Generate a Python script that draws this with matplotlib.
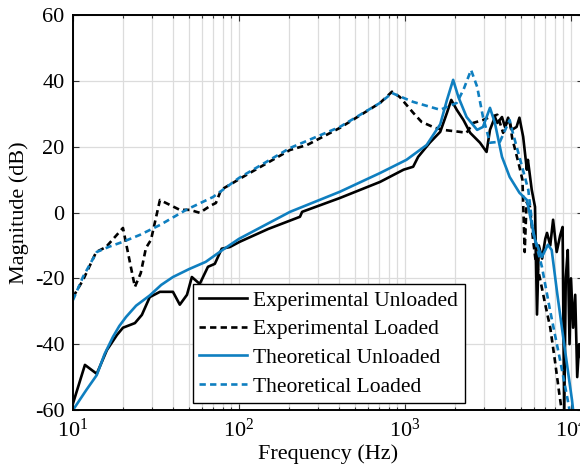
import matplotlib
matplotlib.use("Agg")
import matplotlib.pyplot as plt
from matplotlib.ticker import FixedLocator, FixedFormatter, LogLocator, NullFormatter

plt.rcParams['font.family'] = ['Liberation Serif', 'DejaVu Serif']
plt.rcParams['mathtext.fontset'] = 'custom'
plt.rcParams['mathtext.rm'] = 'Liberation Serif'
plt.rcParams['mathtext.it'] = 'Liberation Serif:italic'

# ---- data ----
exp_unloaded_f = [10, 11.8, 13.9, 16, 18.4, 20, 23.6, 26, 29, 33.4, 40, 44, 48.6, 52, 58, 65, 71.5, 78.7,
                  88, 101, 150, 233, 240, 405, 708, 980, 1120, 1200, 1410, 1630, 1790, 1900, 2050, 2250,
                  2470, 2830, 3100, 3250, 3480, 3600, 3840, 4000, 4180, 4400, 4700, 4890, 5150, 5420, 5500,
                  5800, 6070, 6240, 6400, 6700, 7000, 7170, 7500, 7800, 8200, 8600, 8900, 9100, 9300,
                  9560, 9800, 10000, 10300, 10600, 10900, 11200, 11800]
exp_unloaded_db = [-58, -46.3, -49, -41.8, -37.2, -35, -33.6, -31.1, -25.7, -24.1, -24.1, -28, -25, -19.6,
                   -21.7, -16.5, -15.6, -11, -10.5, -8.9, -5, -1.3, 0.2, 4.4, 9.3, 13, 13.9, 16.9, 21.2,
                   24.5, 30.3, 34.2, 31.2, 28.1, 24.2, 21.2, 18.4, 25.1, 29, 27.2, 29, 26, 28.8, 25.1, 26,
                   28.8, 23, 13, 16, 6.9, 1.7, -31, -10, -14, -8, -6.2, -10, -2.2, -12, -7, -4.4, -62,
                   -20, -11.4, -40, -20, -35, -25, -50, -40, -48]

exp_loaded_f = [10, 11.5, 13.8, 15.8, 20, 23.6, 25.6, 27.5, 29.5, 33.4, 44, 50.6, 58, 67, 72.6, 78, 92, 103,
                203, 257, 405, 708, 835, 930, 1120, 1260, 1520, 1700, 2140, 2350, 2570, 2950, 3250, 3600,
                3900, 4100, 4270, 4420, 4890, 5100, 5260, 5400, 5660, 5900, 6100, 6500, 7000, 7500, 8000,
                8500, 8900]
exp_loaded_db = [-25.7, -20.5, -12, -10.5, -4.7, -22.6, -18.4, -10.8, -8.3, 3.8, 0.8, 0.8, -0.1, 2, 2.9, 6.9,
                 9, 10.5, 19, 20.5, 25.7, 33.3, 36.7, 35.1, 30.3, 27.5, 25.7, 25.1, 24.5, 24.2, 27.2, 28.1,
                 29, 29.7, 24.2, 27.2, 28.1, 22.7, 13.9, 9.9, -12, 3, 1.7, -8, -14, -20, -28, -35, -45,
                 -55, -62]

theo_unloaded_f = [10, 12, 13.9, 15.5, 17.4, 19, 20.9, 24, 29, 34, 40, 50, 63, 80, 100, 203, 405, 708,
                   1020, 1350, 1630, 1790, 1950, 2100, 2350, 2720, 2950, 3250, 3480, 3840, 4270, 4890,
                   5420, 6070, 6680, 7260, 7650, 8250, 9020, 10140, 10400]
theo_unloaded_db = [-60, -54, -49.4, -43, -37.8, -34.5, -31.7, -28.3, -25.2, -22, -19.6, -17.2, -15, -11.3,
                    -8, 0.2, 6.3, 12, 16, 20.5, 26.8, 34.2, 40.3, 35, 29, 25.1, 26, 31.8, 27.2, 16.9,
                    10.8, 6, 3.8, -8.3, -13.5, -9.8, -11.4, -24.4, -38.7, -57, -62]

theo_loaded_f = [10, 11.5, 13.9, 16.5, 20, 25.3, 33.4, 48, 69.7, 100, 203, 405, 708, 835, 890, 1120, 1630,
                 2050, 2250, 2500, 2720, 2950, 3250, 3730, 4270, 4420, 4890, 5530, 5920, 6680, 7470, 8590,
                 9560, 9950]
theo_loaded_db = [-26.6, -19.5, -12, -10.4, -8.9, -6.8, -3.8, 0.8, 4.7, 10.5, 19.6, 26, 33.3, 36.3, 35.7,
                  33.6, 31.2, 33.3, 37.3, 43.3, 38.2, 29, 21.2, 21.5, 28.1, 25, 16.9, 6.9, -6.2, -16.5,
                  -29.6, -44.8, -57, -62]

legend_labels = ['Experimental Unloaded', 'Experimental Loaded',
                 'Theoretical Unloaded', 'Theoretical Loaded']
ytick_vals = [-60, -40, -20, 0, 20, 40, 60]
ytick_labels = ['-60', '-40', '-20', '0', '20', '40', '60']
xtick_vals = [10, 100, 1000, 10000]
xtick_labels = [r'$10^{1}$', r'$10^{2}$', r'$10^{3}$', r'$10^{4}$']

BLUE = '#0f7fc0'
LW = 1.9
DASH = (2.4, 1.6)

fig = plt.figure(figsize=(5.8, 4.74), dpi=100)
W, H = 580, 474
ax = fig.add_axes([73 / W, 1 - 410 / H, (583 - 73) / W, (410 - 15) / H])

ax.plot(exp_unloaded_f, exp_unloaded_db, color='black', lw=LW, label=legend_labels[0])
l2, = ax.plot(exp_loaded_f, exp_loaded_db, color='black', lw=LW, ls='--', label=legend_labels[1])
ax.plot(theo_unloaded_f, theo_unloaded_db, color=BLUE, lw=LW, label=legend_labels[2])
l4, = ax.plot(theo_loaded_f, theo_loaded_db, color=BLUE, lw=LW, ls='--', label=legend_labels[3])
l2.set_dashes(DASH)
l4.set_dashes(DASH)

ax.set_xscale('log')
ax.set_xlim(10, 10 ** (1 + (583 - 73) / 166))
ax.set_ylim(-60, 60)

ax.xaxis.set_major_locator(FixedLocator(xtick_vals))
ax.xaxis.set_major_formatter(FixedFormatter(xtick_labels))
ax.xaxis.set_minor_locator(LogLocator(base=10, subs=range(2, 10), numticks=20))
ax.xaxis.set_minor_formatter(NullFormatter())
ax.yaxis.set_major_locator(FixedLocator(ytick_vals))
ax.yaxis.set_major_formatter(FixedFormatter(ytick_labels))

ax.grid(True, which='major', color='#dcdcdc', lw=0.9)
ax.grid(True, which='minor', axis='x', color='#dcdcdc', lw=0.9)
ax.set_axisbelow(True)

ax.tick_params(which='both', direction='in', top=True, right=True, labelsize=16,
               width=0.8, color='#333333')
ax.tick_params(which='major', length=4, pad=6)
ax.tick_params(which='minor', length=2.5)
for s in ax.spines.values():
    s.set_linewidth(1.4)

ax.set_xlabel('Frequency (Hz)', fontsize=16, labelpad=2)
ax.set_ylabel('Magnitude (dB)', fontsize=16, labelpad=4)

leg = ax.legend(loc='lower left', bbox_to_anchor=(193 / W, 1 - 403 / H),
                bbox_transform=fig.transFigure, fontsize=15.5, frameon=True,
                fancybox=False, edgecolor='black', framealpha=1, borderaxespad=0,
                handlelength=2.2, handletextpad=0.3, labelspacing=0.4, borderpad=0.3)
leg.get_frame().set_linewidth(1.0)

fig.savefig('out.png', dpi=100)
